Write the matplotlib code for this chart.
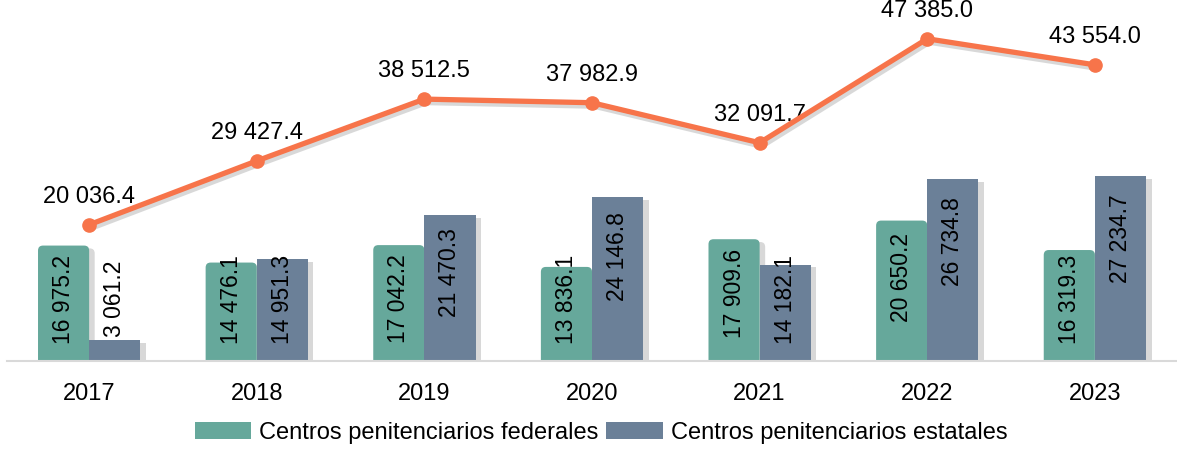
import matplotlib.pyplot as plt
import matplotlib.patheffects as pe
from matplotlib.patches import FancyBboxPatch, Patch
import numpy as np

plt.rcParams['font.family'] = ['Liberation Sans', 'DejaVu Sans']

years = ['2017', '2018', '2019', '2020', '2021', '2022', '2023']
federales = [16975.2, 14476.1, 17042.2, 13836.1, 17909.6, 20650.2, 16319.3]
estatales = [3061.2, 14951.3, 21470.3, 24146.8, 14182.1, 26734.8, 27234.7]
total = [20036.4, 29427.4, 38512.5, 37982.9, 32091.7, 47385.0, 43554.0]

c_fed = '#66a89b'
c_est = '#6b8098'
c_line = '#f7744a'

def fmt(v):
    return f"{v:,.1f}".replace(",", " ")

W, H = 1177, 451
fig = plt.figure(figsize=(W / 100, H / 100), dpi=100)
ax = fig.add_axes([7 / W, 90 / H, 1170 / W, 361 / H])
ymax = 53088
ax.set_xlim(-0.49, 6.49)
ax.set_ylim(0, ymax)

x = np.arange(len(years))
w = 0.305

# pixel scales for rounded corners
px_x = 1170 / 6.98
px_y = 361 / ymax
r = 5 / px_x
aspect = px_x / px_y

shadow = [pe.SimplePatchShadow(offset=(4, -2), shadow_rgbFace='0.5', alpha=0.3), pe.Normal()]

for xi, v in zip(x, federales):
    p = FancyBboxPatch((xi - w, -3000), w, v + 3000,
                       boxstyle=f"round,pad=0,rounding_size={r}",
                       mutation_aspect=aspect, fc=c_fed, ec='none', zorder=2)
    p.set_path_effects(shadow)
    ax.add_patch(p)

bars = ax.bar(x + w / 2, estatales, w, color=c_est, zorder=3)
for b in bars:
    b.set_path_effects(shadow)

for xi, v in zip(x, federales):
    ax.text(xi - w / 2, max(0.87 * v - 5700, 9100), fmt(v), rotation=90,
            ha='center', va='center', fontsize=16.5, zorder=5)
for xi, v in zip(x, estatales):
    ax.text(xi + w / 2, max(0.87 * v - 5700, 9100), fmt(v), rotation=90,
            ha='center', va='center', fontsize=16.5, zorder=5)

# line with a soft shadow, markers on top
ax.plot(x, total, color=c_line, lw=3.8, zorder=4,
        path_effects=[pe.SimpleLineShadow(offset=(1.5, -2.5), shadow_color='0.4', alpha=0.25), pe.Normal()])
ax.plot(x, total, ls='none', marker='o', ms=9.5, color=c_line, zorder=4.5)
for xi, v in zip(x, total):
    ax.annotate(fmt(v), (xi, v), xytext=(0, 20), textcoords='offset points',
                ha='center', va='center', fontsize=17)

ax.set_xticks(x, years)
ax.tick_params(axis='x', length=0, pad=16, labelsize=17)
ax.set_yticks([])
for s in ['top', 'right', 'left']:
    ax.spines[s].set_visible(False)
ax.spines['bottom'].set_color('#d9d9d9')
ax.spines['bottom'].set_linewidth(1.5)
ax.spines['bottom'].set_zorder(6)

handles = [Patch(fc=c_fed, label='Centros penitenciarios federales'),
           Patch(fc=c_est, label='Centros penitenciarios estatales')]
fig.legend(handles=handles, loc='center', bbox_to_anchor=(601 / W, 1 - 433 / H),
           ncol=2, frameon=False, fontsize=17, handlelength=2.4, handleheight=0.75,
           handletextpad=0.35, columnspacing=0.3)

fig.savefig('out.png', dpi=100)
